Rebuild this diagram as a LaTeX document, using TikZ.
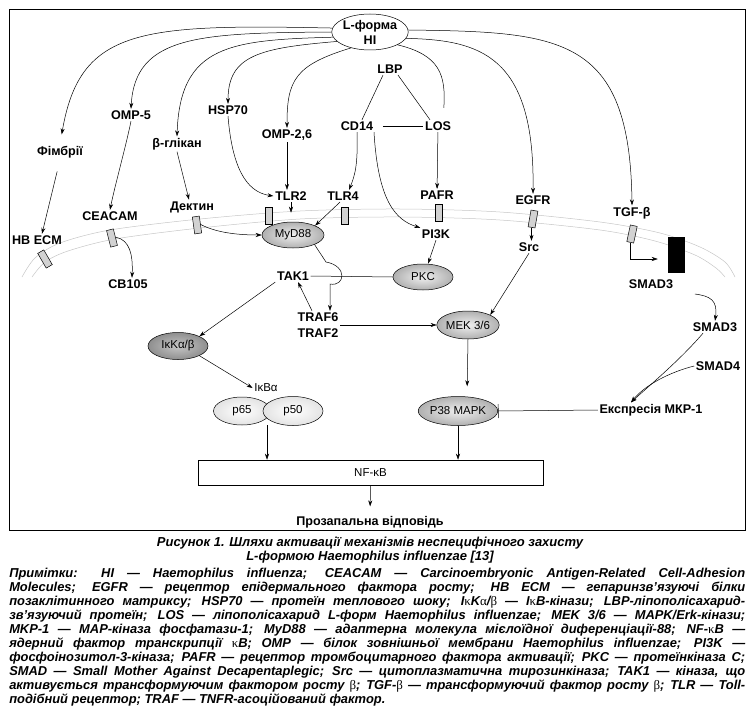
\documentclass[tikz,border=0pt]{standalone}
\usepackage{fontspec}
\setmainfont{Liberation Sans}
\newfontfamily\gkfont{Liberation Serif}
\newcommand\gk[1]{{\gkfont\upshape\mdseries #1}}
\newcommand\jline[1]{\makebox[736pt][s]{#1}}
\usetikzlibrary{shapes.geometric,arrows.meta}

\tikzset{
  lbl/.style={font=\bfseries\fontsize{12.6}{14}\selectfont, inner sep=1.5pt, align=center},
  mol/.style={ellipse, draw, font=\fontsize{11.5}{13}\selectfont, inner sep=0pt,
    minimum width=60pt, minimum height=26pt, inner color=gray!12, outer color=gray!62},
  darkmol/.style={mol, inner color=gray!45, outer color=gray!88},
  lightmol/.style={mol, inner color=white, outer color=gray!22},
  rcpt/.style={draw, fill=gray!35, minimum width=7pt, minimum height=17pt, inner sep=0pt},
  memb/.style={gray!45, line width=0.5pt},
  capt/.style={font=\bfseries\itshape\fontsize{13}{14}\selectfont, align=center, inner sep=0pt},
  notes/.style={font=\bfseries\itshape\fontsize{12.9}{14}\selectfont, align=left, inner sep=0pt},
  >={Stealth[length=6pt,width=4pt]}
}

\begin{document}
\begin{tikzpicture}[x=1pt,y=-1pt,line width=0.5pt]
\useasboundingbox (0,0) rectangle (755,725);
\draw[line width=0.8pt] (9,9) rectangle (745,530);

% membrane
\draw[memb] plot[smooth] coordinates {(22,277) (35,258) (60,243) (110,230) (200,219) (300,211) (400,209) (500,212) (600,222) (660,233) (700,247) (725,262) (735,277)};
\draw[memb] plot[smooth] coordinates {(32,277) (45,262) (68,251) (115,239) (200,228) (300,219) (400,217) (500,220) (600,230) (655,241) (695,255) (716,268) (725,277)};
\node[rcpt, rotate=30] (hbecmr) at (45,259) {};
\node[rcpt, rotate=14] (ceacr) at (112,238) {};
\node[rcpt, rotate=8] (dectr) at (197,225) {};
\node[rcpt] (tlr2r) at (269,216) {};
\node[rcpt] (tlr4r) at (345,216) {};
\node[rcpt] (pafrr) at (439,213) {};
\node[rcpt, rotate=-10] (egfrr) at (533,219) {};
\node[rcpt, rotate=-12] (tgfr) at (632,234) {};
\node[fill=black, minimum width=17pt, minimum height=36pt, inner sep=0pt] (bar) at (676.5,255) {};

\node[ellipse, draw, fill=white, minimum width=75pt, minimum height=36pt, inner sep=0pt,
  font=\bfseries\fontsize{12.6}{15}\selectfont, align=center] (hi) at (370,32) {L-форма\\HI};
\node[lbl] (lbp) at (390,69) {LBP};
\node[lbl] (cd14) at (357,126) {CD14};
\node[lbl] (los) at (438,126) {LOS};
\node[lbl] (pafr) at (437,195) {PAFR};
\node[lbl] (egfr) at (533,200) {EGFR};
\node[lbl] (tgf) at (632,213) {TGF-β};
\node[lbl] (fim) at (60,152) {Фімбрії};
\node[lbl] (omp5) at (131,115) {OMP-5};
\node[lbl] (bglc) at (177,144) {β-глікан};
\node[lbl] (hsp) at (228,110) {HSP70};
\node[lbl] (omp26) at (287,135) {OMP-2,6};
\node[lbl] (tlr2) at (291,196) {TLR2};
\node[lbl] (tlr4) at (343,196) {TLR4};
\node[lbl] (dect) at (192,207) {Дектин};
\node[lbl] (ceacam) at (110,216) {CEACAM};
\node[lbl] (hbecm) at (37,240) {HB ECM};
\node[lbl] (cb) at (128,284) {CB105};
\node[mol, minimum width=62pt] (myd) at (293,235) {MyD88};
\node[lbl] (pi3k) at (436,234) {PI3K};
\node[lbl] (src) at (529,247) {Src};
\node[mol] (pkc) at (423,277) {PKC};
\node[lbl] (tak) at (293,276) {TAK1};
\node[lbl, font=\bfseries\fontsize{12.6}{16}\selectfont] (traf) at (318,325) {TRAF6\\TRAF2};
\node[mol, minimum width=58pt, minimum height=28pt] (mek) at (468,325) {MEK 3/6};
\node[darkmol, minimum height=27pt] (ikk) at (178,346) {IκKα/β};
\node[font=\fontsize{11.5}{13}\selectfont, inner sep=1.5pt] (ikb) at (266,388) {IκBα};
\node[lightmol, minimum width=57pt, minimum height=28pt] (p65) at (242,411) {p65};
\node[lightmol, minimum width=60pt, minimum height=29pt] (p50) at (293,411) {p50};
\node[mol, minimum width=74pt, minimum height=29pt] (p38) at (458,411) {P38 MAPK};
\node[lbl] (mkp) at (651,410) {Експресія МКР-1};
\node[lbl] (smad3a) at (651,284) {SMAD3};
\node[lbl] (smad3b) at (715,327) {SMAD3};
\node[lbl] (smad4) at (718,366) {SMAD4};
\node[draw, fill=white, minimum width=345pt, minimum height=25pt, font=\fontsize{11.5}{13}\selectfont] (nfkb) at (370.5,472.5) {NF-κB};
\node[lbl] (resp) at (370,522) {Прозапальна відповідь};
\coordinate (pj) at (267,425);

\draw[->, shorten >=10pt] (hi.174) .. controls (140,24) and (80,28) .. (fim.north);
\draw[->] (hi.180) .. controls (200,33) and (135,35) .. (omp5.north);
\draw[->] (hi.188) .. controls (230,40) and (180,45) .. (bglc.north);
\draw[->] (hi.196) .. controls (260,48) and (228,55) .. (hsp.north);
\draw[->] (hi.220) .. controls (295,65) and (287,80) .. (omp26.north);
\draw[->] (hi.3) .. controls (560,32) and (630,35) .. (tgf.north);
\draw[->] (hi.-10) .. controls (480,40) and (535,55) .. (egfr.north);
\draw[shorten >=12pt] (hi.-25) .. controls (440,55) and (446,75) .. ([xshift=5pt]los.north);
\draw ([xshift=-7pt]lbp.south) -- ([xshift=5pt]cd14.north);
\draw ([xshift=8pt]lbp.south) -- ([xshift=-8pt]los.north);
\draw[shorten <=8pt] (cd14) -- (los);
\draw[->] (cd14.south) .. controls (358,165) and (355,175) .. ([xshift=6pt]tlr4.north);
\draw[->] ([xshift=17pt]cd14.south) .. controls (378,200) and (395,220) .. (pi3k.north west);
\draw[->] (los) -- (pafr);
\draw[->, shorten <=12pt] (fim.south) -- ([xshift=5pt]hbecm.north);
\draw[->] (omp5.south) .. controls (125,150) and (115,185) .. (ceacam.north);
\draw[->] (bglc.south) -- ([xshift=-3pt]dect.north);
\draw[->] (hsp.south) .. controls (232,165) and (245,192) .. (tlr2.west);
\draw[->] (omp26.south) -- (omp26.south |- tlr2.north);
\draw[->, shorten >=9pt] (tlr2.south) -- (tlr2.south |- myd.north);
\draw[->] ([xshift=-3pt]tlr4.south) -- (myd.north east);
\draw[->] (dectr.east) .. controls (215,232) and (235,235) .. (myd.west);
\draw[->] (ceacr.east) .. controls (130,240) and (133,255) .. ([xshift=4pt]cb.north);
\draw[->] (pi3k.south) -- ([xshift=5pt]pkc.north);
\draw (tak.east) -- (pkc.west);
\draw[->] (myd.336) -- (326,262) .. controls (348,266) and (345,287) .. (330,284) -- ([xshift=12pt]traf.north);
\draw[->] ([xshift=-6pt]traf.north) -- ([xshift=5pt]tak.south);
\draw[->] (traf.east) -- (mek.west);
\draw[->] (tak.south west) -- (ikk.north east);
\draw[->] (ikk.south east) -- (ikb.west);
\draw[->] (egfrr.south) -- (egfrr.south |- src.north);
\draw[->] (src.south) -- (mek.north east);
\draw[->, shorten >=10pt] (mek.south) -- ([xshift=9pt]p38.north);
\draw[->] (tgfr.south) |- ([shift={(-10pt,-4pt)}]bar.west);
\draw[->] ([shift={(20pt,-10pt)}]smad3a.east) .. controls (710,296) and (718,300) .. (smad3b.north);
\draw[->] ([xshift=-12pt]smad3b.south) .. controls (680,360) and (650,385) .. ([xshift=-20pt]mkp.north);
\draw[->] (smad4.west) .. controls (670,372) and (645,385) .. ([xshift=-20pt]mkp.north);
\draw[-{Bar[width=14pt]}] (mkp.west) -- (p38.east);
\draw[->] (pj) -- (pj |- nfkb.north);
\draw[->] (p38.south) -- (p38.south |- nfkb.north);
\draw[->, shorten >=8pt] (nfkb.south) -- (resp.north);

\node[capt] (cap) at (370,550) {Рисунок 1. Шляхи активації механізмів неспецифічного захисту\\L-формою Haemophilus influenzae [13]};
\node[notes, anchor=north west] (notes) at (9,568) {%
\jline{Примітки: HI — Haemophilus influenza; CEACAM — Carcinoembryonic Antigen-Related Cell-Adhesion}\\
\jline{Molecules; EGFR — рецептор епідермального фактора росту; HB ECM — гепаринзв’язуючі білки}\\
\jline{позаклітинного матриксу; HSP70 — протеїн теплового шоку; I\gk{κ}K\gk{α}/\gk{β} — I\gk{κ}B-кінази; LBP-ліпополісахарид-}\\
\jline{зв’язуючий протеїн; LOS — ліпополісахарид L-форм Haemophilus influenzae; MEK 3/6 — MAPK/Erk-кінази;}\\
\jline{MKP-1 — MAP-кіназа фосфатази-1; MyD88 — адаптерна молекула мієлоїдної диференціації-88; NF-\gk{κ}B —}\\
\jline{ядерний фактор транскрипції \gk{κ}B; OMP — білок зовнішньої мембрани Haemophilus influenzae; PI3K —}\\
\jline{фосфоінозитол-3-кіназа; PAFR — рецептор тромбоцитарного фактора активації; PKC — протеїнкіназа C;}\\
\jline{SMAD — Small Mother Against Decapentaplegic; Src — цитоплазматична тирозинкіназа; TAK1 — кіназа, що}\\
\jline{активується трансформуючим фактором росту \gk{β}; TGF-\gk{β} — трансформуючий фактор росту \gk{β}; TLR — Toll-}\\
подібний рецептор; TRAF — TNFR-асоційований фактор.};
\end{tikzpicture}
\end{document}
